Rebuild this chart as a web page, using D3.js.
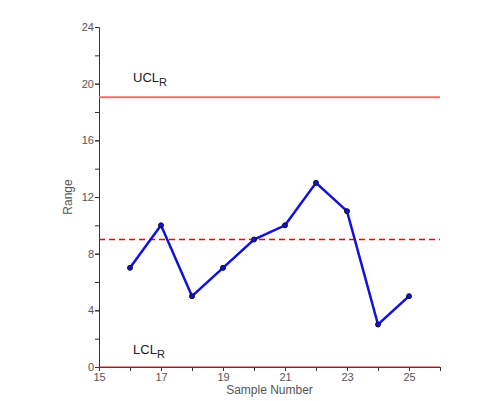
<!DOCTYPE html>
<html>
<head>
<meta charset="utf-8">
<script src="https://cdn.jsdelivr.net/npm/d3@7"></script>
<style>
  body { margin: 0; background: #fff; }
  text { font-family: Arial, "Liberation Sans", sans-serif; }
</style>
</head>
<body>
<div id="chart"></div>
<script>
// chart data
const samples = [16, 17, 18, 19, 20, 21, 22, 23, 24, 25];
const ranges = [7, 10, 5, 7, 9, 10, 13, 11, 3, 5];
const uclR = 19.05;
const centerR = 9;
const lclR = 0;
const xTicks = [15, 17, 19, 21, 23, 25];
const yTicks = [0, 4, 8, 12, 16, 20, 24];

const width = 490, height = 401;
const margin = { top: 27, right: 50, bottom: 34, left: 99 };
const innerWidth = width - margin.left - margin.right;
const innerHeight = height - margin.top - margin.bottom;

const svg = d3.select("#chart").append("svg")
    .attr("width", width)
    .attr("height", height);

const chart = svg.append("g")
    .attr("transform", `translate(${margin.left},${margin.top})`);

const x = d3.scaleLinear().domain([15, 26]).range([0, innerWidth]);
const y = d3.scaleLinear().domain([0, 24]).range([innerHeight, 0]);

// minor ticks (no labels)
chart.append("g")
    .attr("transform", `translate(0,${innerHeight})`)
    .call(d3.axisBottom(x).tickValues(d3.range(15, 27)).tickSize(4).tickFormat(""))
    .call(g => g.selectAll(".tick text").remove());
chart.append("g")
    .call(d3.axisLeft(y).tickValues(d3.range(0, 25, 2)).tickSize(4).tickFormat(""))
    .call(g => g.selectAll(".tick text").remove());

// labelled ticks
chart.append("g")
    .attr("transform", `translate(0,${innerHeight})`)
    .call(d3.axisBottom(x).tickValues(xTicks).tickSize(4).tickPadding(2).tickFormat(d3.format("d")))
    .call(g => g.select(".domain").remove());
chart.append("g")
    .call(d3.axisLeft(y).tickValues(yTicks).tickSize(4).tickPadding(1).tickFormat(d3.format("d")))
    .call(g => g.select(".domain").remove());

svg.selectAll(".domain, .tick line").attr("stroke", "#333");
svg.selectAll(".tick text").attr("fill", "#555").style("font-size", "11px");

// control lines
chart.append("line")
    .attr("x1", 0).attr("x2", innerWidth)
    .attr("y1", y(uclR)).attr("y2", y(uclR))
    .attr("stroke", "#f07070").attr("stroke-width", 2);
chart.append("line")
    .attr("x1", 0).attr("x2", innerWidth)
    .attr("y1", y(centerR)).attr("y2", y(centerR))
    .attr("stroke", "red").attr("stroke-width", 1.5)
    .attr("stroke-dasharray", "6,4");
chart.append("line")
    .attr("x1", 0).attr("x2", innerWidth)
    .attr("y1", y(lclR)).attr("y2", y(lclR))
    .attr("stroke", "#d02020").attr("stroke-width", 1);

// limit labels
const ucl = chart.append("text")
    .attr("x", x(16.1)).attr("y", y(20.1))
    .attr("fill", "#222").style("font-size", "13px")
    .text("UCL");
ucl.append("tspan").attr("dy", 4).style("font-size", "11px").text("R");
const lcl = chart.append("text")
    .attr("x", x(16.1)).attr("y", y(0.9))
    .attr("fill", "#222").style("font-size", "13px")
    .text("LCL");
lcl.append("tspan").attr("dy", 4).style("font-size", "11px").text("R");

// series
const pts = samples.map((s, i) => ({ s, r: ranges[i] }));
chart.append("path")
    .datum(pts)
    .attr("fill", "none")
    .attr("stroke", "#1010e0")
    .attr("stroke-width", 2.5)
    .attr("d", d3.line().x(d => x(d.s)).y(d => y(d.r)));
chart.selectAll(".pt")
    .data(pts)
    .enter()
    .append("circle")
    .attr("class", "pt")
    .attr("cx", d => x(d.s))
    .attr("cy", d => y(d.r))
    .attr("r", 2.5)
    .attr("fill", "#1010e0")
    .attr("stroke", "#111")
    .attr("stroke-width", 1);

// axis titles
chart.append("text")
    .attr("x", innerWidth / 2)
    .attr("y", innerHeight + 27)
    .attr("text-anchor", "middle")
    .attr("fill", "#555").style("font-size", "12px")
    .text("Sample Number");
chart.append("text")
    .attr("transform", "rotate(-90)")
    .attr("x", -innerHeight / 2)
    .attr("y", -27)
    .attr("text-anchor", "middle")
    .attr("fill", "#555").style("font-size", "12px")
    .text("Range");
</script>
</body>
</html>
